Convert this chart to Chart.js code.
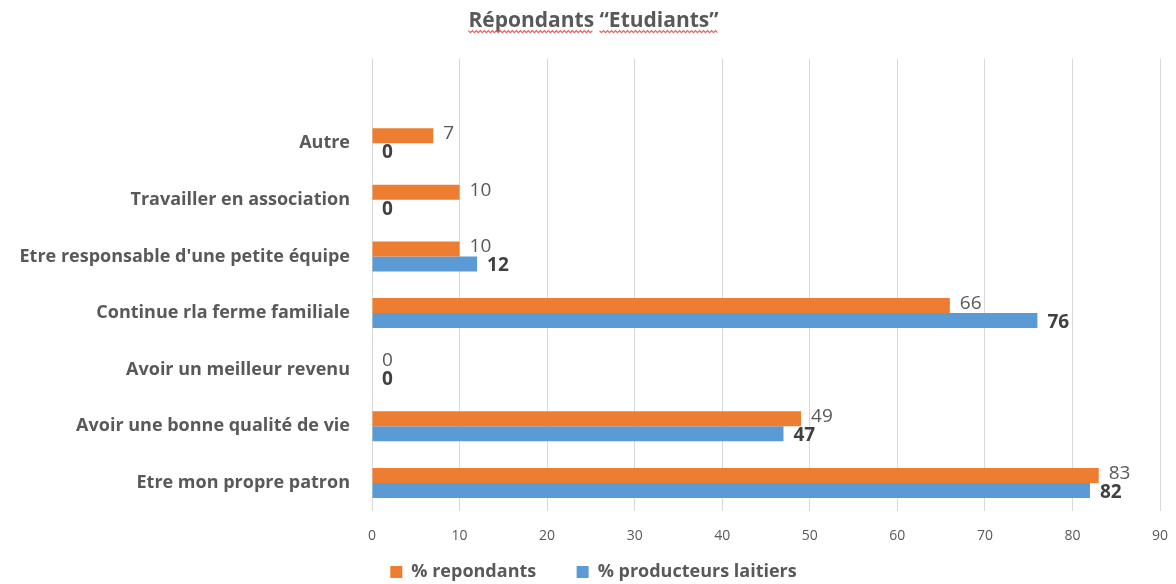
<!DOCTYPE html>
<html>
<head>
<meta charset="utf-8">
<script src="https://cdn.jsdelivr.net/npm/chart.js@4/dist/chart.umd.min.js"></script>
<style>
  html, body { margin: 0; padding: 0; background: #fff; }
  #wrap { width: 1176px; height: 584px; }
</style>
</head>
<body>
<div id="wrap"><canvas id="chart" width="1176" height="584"></canvas></div>
<script>
// categories, top to bottom (first slot is an empty row, as in the original)
var categories = ['', 'Autre', 'Travailler en association', "Etre responsable d'une petite équipe",
    'Continue rla ferme familiale', 'Avoir un meilleur revenu', 'Avoir une bonne qualité de vie',
    'Etre mon propre patron'];
var repondants = [null, 7, 10, 10, 66, 0, 49, 83];
var producteurs = [null, 0, 0, 12, 76, 0, 47, 82];
var xTicks = [0, 10, 20, 30, 40, 50, 60, 70, 80, 90];

var FONT = "'Open Sans', sans-serif";
var GREY = '#595959';

// value labels next to the bar ends
var valueLabels = {
    id: 'valueLabels',
    afterDatasetsDraw: function(chart) {
        var ctx = chart.ctx;
        chart.data.datasets.forEach(function(ds, i) {
            var meta = chart.getDatasetMeta(i);
            meta.data.forEach(function(bar, j) {
                var v = ds.data[j];
                if (v === null) return;
                ctx.save();
                ctx.textBaseline = 'middle';
                if (i === 0) {
                    ctx.font = '19px ' + FONT;
                    ctx.fillStyle = GREY;
                    ctx.fillText(v, bar.x + 10, bar.y - 2);
                } else {
                    ctx.font = 'bold 19px ' + FONT;
                    ctx.fillStyle = '#404040';
                    ctx.fillText(v, bar.x + 10, bar.y + 2);
                }
                ctx.restore();
            });
        });
    }
};

// red spell-check squiggle under the title words
var squiggle = {
    id: 'squiggle',
    afterDraw: function(chart) {
        var tb = chart.titleBlock;
        if (!tb) return;
        var ctx = chart.ctx;
        var opts = chart.options.plugins.title;
        var text = opts.text;
        ctx.save();
        ctx.font = 'bold ' + opts.font.size + 'px ' + FONT;
        var total = ctx.measureText(text).width;
        var x = tb.left + tb.width / 2 - total / 2;
        var y = tb.top + opts.padding.top + opts.font.size * 0.6 + 11;
        ctx.strokeStyle = '#e06060';
        ctx.lineWidth = 1.2;
        text.split(' ').forEach(function(w) {
            var ww = ctx.measureText(w).width;
            ctx.beginPath();
            for (var px = 0; px <= ww; px += 2) {
                var yy = y + ((px / 2) % 2 === 0 ? -1 : 1);
                if (px === 0) ctx.moveTo(x + px, yy); else ctx.lineTo(x + px, yy);
            }
            ctx.stroke();
            x += ww + ctx.measureText(' ').width;
        });
        ctx.restore();
    }
};

var defaultLabels = Chart.defaults.plugins.legend.labels.generateLabels;

var chart = new Chart(document.getElementById('chart').getContext('2d'), {
    type: 'bar',
    data: {
        labels: categories,
        datasets: [{
            label: '% repondants',
            data: repondants,
            backgroundColor: '#ED7D31',
            borderWidth: 0
        }, {
            label: '% producteurs laitiers',
            data: producteurs,
            backgroundColor: '#5B9BD5',
            borderWidth: 0
        }]
    },
    options: {
        indexAxis: 'y',
        responsive: false,
        animation: false,
        layout: { padding: { left: 16, right: 5, top: 0, bottom: -7 } },
        datasets: { bar: { barPercentage: 1, categoryPercentage: 0.53 } },
        scales: {
            x: {
                min: 0,
                max: 90,
                afterBuildTicks: function(s) {
                    s.ticks = xTicks.map(function(v) { return { value: v }; });
                },
                afterFit: function(s) { s.paddingRight = 16; },
                grid: { color: '#D9D9D9', drawTicks: false },
                border: { display: false },
                ticks: { color: GREY, font: { family: FONT, size: 14 }, padding: 16 }
            },
            y: {
                afterFit: function(s) { s.width = 356; },
                grid: { display: false },
                border: { display: false },
                ticks: { color: GREY, font: { family: FONT, size: 18, weight: 'bold' }, padding: 14 }
            }
        },
        plugins: {
            title: {
                display: true,
                text: 'Répondants “Etudiants”',
                color: GREY,
                font: { family: FONT, size: 21, weight: 'bold' },
                padding: { top: 8, bottom: 25 }
            },
            legend: {
                position: 'bottom',
                labels: {
                    color: GREY,
                    font: { family: FONT, size: 18, weight: 'bold' },
                    boxWidth: 12,
                    boxHeight: 12,
                    padding: 3,
                    generateLabels: function(c) {
                        var items = defaultLabels(c);
                        // wider gap between the two legend entries
                        items[0].text = items[0].text + '\u00a0\u00a0\u00a0\u00a0\u00a0\u00a0\u00a0\u00a0';
                        return items;
                    }
                }
            },
            tooltip: { enabled: false }
        }
    },
    plugins: [valueLabels, squiggle]
});
</script>
</body>
</html>
